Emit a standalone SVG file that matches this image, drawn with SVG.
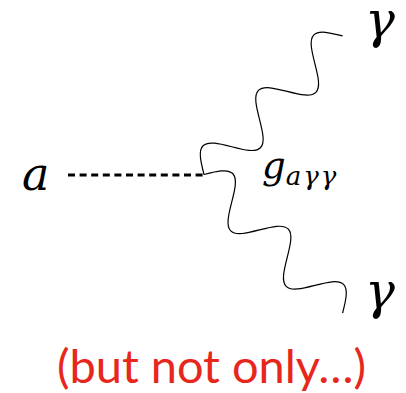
<svg xmlns="http://www.w3.org/2000/svg" width="406" height="393" viewBox="0 0 406 393">
<defs>
<style>
.m{font-family:"DejaVu Serif",serif;font-style:italic;fill:#000}
.photon{fill:none;stroke:#000;stroke-width:1.2}
.scalar{fill:none;stroke:#000;stroke-width:2.8;stroke-dasharray:7 4.6}
.note{font-family:Lato,"Noto Sans",sans-serif;fill:#e8271c;font-size:47px}
</style>
<path id="wave" d="M0,0 c6.552,-11.03 12.516,-21 19.6,-21 c7.084,0 13.048,9.97 19.6,21 c6.552,11.03 12.516,21 19.6,21 c7.084,0 13.048,-9.97 19.6,-21 c6.552,-11.03 12.516,-21 19.6,-21 c7.084,0 13.048,9.97 19.6,21 c6.552,11.03 12.516,21 19.6,21 c7.084,0 13.048,-9.97 19.6,-21 c6.552,-11.03 12.516,-21 19.6,-21 c7.084,0 13.048,9.97 19.6,21"/>
</defs>
<rect width="406" height="393" fill="#fff"/>
<g id="connectors">
<line class="scalar" x1="68" y1="175" x2="203" y2="175"/>
<use href="#wave" class="photon" transform="translate(204,174.5) rotate(-45)"/>
<use href="#wave" class="photon" transform="translate(204,174.5) rotate(45)"/>
</g>
<g id="axion"><text class="m" x="22" y="189.5" font-size="46">a</text></g>
<g id="vertex"><text class="m" x="262" y="178" font-size="37">g<tspan font-size="26" y="185" letter-spacing="2">aγγ</tspan></text></g>
<g id="photon1"><text class="m" x="365" y="37" font-size="50">γ</text></g>
<g id="photon2"><text class="m" x="365" y="308" font-size="50">γ</text></g>
<text class="note" x="57" y="383" textLength="309">(but not only…)</text>
</svg>
